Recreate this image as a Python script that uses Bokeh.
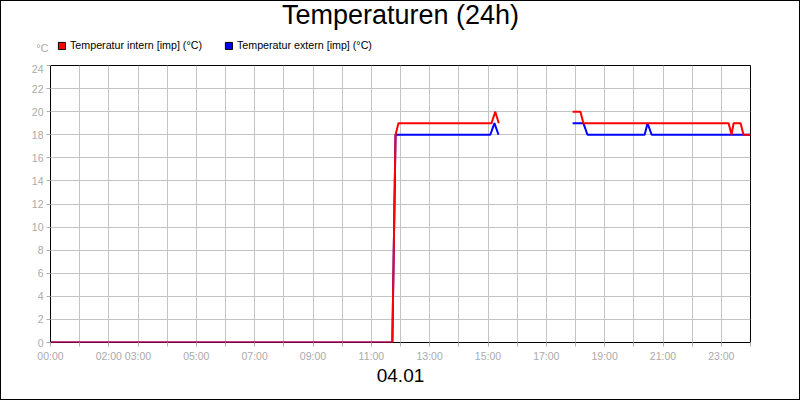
import numpy as np
from bokeh.plotting import figure
from bokeh.layouts import column
from bokeh.models import Range1d, FixedTicker, Legend, LegendItem, Label
from bokeh.embed import file_html
from bokeh.resources import INLINE

# ---- data ----
title_text = "Temperaturen (24h)"
date_text = "04.01"
unit_text = "°C"
series_names = ["Temperatur intern [imp] (°C)", "Temperatur extern [imp] (°C)"]
series_colors = ["#ff0000", "#0000ff"]

intern_hours = [0, 11.72, 11.83, 11.93, 15.12, 15.25, 15.37, np.nan,
                17.90, 18.17, 18.27, 23.25, 23.35, 23.42, 23.66, 23.76, 24.0]
intern_temp = [0, 0, 18, 19, 19, 20, 19, np.nan,
               20, 20, 19, 19, 18, 19, 19, 18, 18]

extern_hours = [0, 11.72, 11.83, 15.08, 15.22, 15.36, np.nan,
                17.90, 18.27, 18.41, 20.37, 20.47, 20.61, 24.0]
extern_temp = [0, 0, 18, 18, 19, 18, np.nan,
               19, 19, 18, 18, 19, 18, 18]

x_tick_values = list(range(0, 25))
x_tick_labels = ["00:00", "", "02:00", "03:00", "", "05:00", "", "07:00", "",
                 "09:00", "", "11:00", "", "13:00", "", "15:00", "", "17:00",
                 "", "19:00", "", "21:00", "", "23:00", ""]
y_tick_values = list(range(0, 25, 2))

FONT = "Liberation Sans"
GRID = "#c4c4c4"
TICKLAB = "#aaaaaa"
W = 798

# ---------- header strip (title, unit, legend), frame aligned with chart ----------
top = figure(width=W, height=63, output_backend="svg", toolbar_location=None,
             x_range=Range1d(0, 700), y_range=Range1d(0, 63),
             min_border_left=49, min_border_right=49, min_border_top=0,
             min_border_bottom=0, frame_width=700, frame_height=63,
             x_axis_location=None, y_axis_location="left")
top.grid.visible = False
top.outline_line_color = None
top.background_fill_color = "white"
top.border_fill_color = "white"
ya = top.yaxis[0]
ya.ticker = FixedTicker(ticks=[16.5])
ya.major_label_overrides = {16.5: unit_text}
ya.axis_line_color = None
ya.major_tick_line_color = None
ya.minor_tick_line_color = None
ya.major_tick_out = 0
ya.major_label_standoff = 2
ya.major_label_text_font = FONT
ya.major_label_text_font_size = "11px"
ya.major_label_text_color = TICKLAB

top.add_layout(Label(x=350, y=50, text=title_text, text_align="center",
                     text_baseline="alphabetic", text_font=FONT,
                     text_font_size="27px", text_color="black"))

sw_intern = top.quad(left=intern_hours, right=intern_hours, top=intern_temp,
                     bottom=intern_temp, fill_color=series_colors[0],
                     line_color="black", visible=False)
sw_extern = top.quad(left=extern_hours, right=extern_hours, top=extern_temp,
                     bottom=extern_temp, fill_color=series_colors[1],
                     line_color="black", visible=False)
legend = Legend(items=[LegendItem(label=series_names[0], renderers=[sw_intern]),
                       LegendItem(label=series_names[1], renderers=[sw_extern])],
                location=(7, 13), orientation="horizontal",
                glyph_width=9, glyph_height=9, label_height=9, label_width=10,
                label_standoff=4, spacing=22, padding=0, margin=0,
                border_line_color=None, background_fill_alpha=0,
                inactive_fill_alpha=0,
                label_text_font=FONT, label_text_font_size="10.7px",
                label_text_color="black")
top.add_layout(legend, "center")

# ---------- main chart ----------
p = figure(width=W, height=335, output_backend="svg", toolbar_location=None,
           x_range=Range1d(0, 24), y_range=Range1d(0, 24),
           min_border_left=49, min_border_right=49, min_border_top=1,
           min_border_bottom=57, frame_width=700, frame_height=277)
p.background_fill_color = "white"
p.border_fill_color = "white"
p.outline_line_color = "black"
p.outline_line_width = 1

p.xaxis.ticker = FixedTicker(ticks=x_tick_values)
p.xaxis.major_label_overrides = {v: l for v, l in zip(x_tick_values, x_tick_labels)}
p.yaxis.ticker = FixedTicker(ticks=y_tick_values)
for ax in (p.xaxis[0], p.yaxis[0]):
    ax.axis_line_color = None
    ax.major_tick_line_color = "#b0b0b0"
    ax.major_tick_out = 4
    ax.major_tick_in = 0
    ax.minor_tick_line_color = None
    ax.major_label_text_color = TICKLAB
    ax.major_label_text_font = FONT
    ax.major_label_text_font_size = "10.5px"
    ax.major_label_standoff = 3
p.xaxis.axis_label = date_text
p.xaxis.axis_label_text_font = FONT
p.xaxis.axis_label_text_font_size = "19px"
p.xaxis.axis_label_text_font_style = "normal"
p.xaxis.axis_label_text_color = "black"
p.xaxis.axis_label_standoff = 4
p.xgrid.ticker = FixedTicker(ticks=x_tick_values)
p.ygrid.ticker = FixedTicker(ticks=y_tick_values)
p.grid.grid_line_color = GRID
p.grid.grid_line_width = 1

p.line(extern_hours, extern_temp, line_color=series_colors[1], line_width=2)
p.line(intern_hours, intern_temp, line_color=series_colors[0], line_width=2)

layout = column(top, p, spacing=0, styles={"border": "1px solid black"})
open("out.html", "w").write(file_html(layout, INLINE))
